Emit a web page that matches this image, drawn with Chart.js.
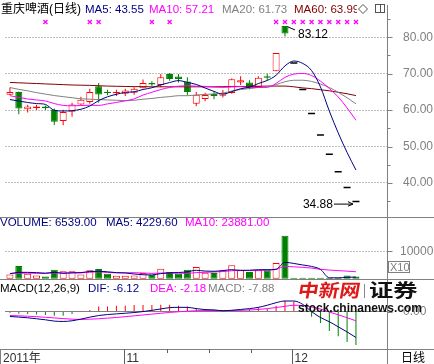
<!DOCTYPE html>
<html lang="zh-CN">
<head>
<meta charset="UTF-8">
<title>重庆啤酒(日线)</title>
<script src="https://cdn.jsdelivr.net/npm/chart.js"></script>
<style>
  html, body { margin: 0; padding: 0; background: #fff; }
  #wrap { width: 434px; height: 364px; }
</style>
</head>
<body>
<div id="wrap"><canvas id="kChart" width="434" height="364"></canvas></div>
<script>
// daily candles, last 40 trading days (3 empty slots on the right)
const opens  = [64.20, 64.95, 60.27, 60.54, 60.97, 60.00, 57.03, 59.54, 61.51, 62.24,
                66.57, 65.03, 64.60, 64.49, 64.76, 66.03, 67.46, 66.92, 69.90, 69.20,
                67.84, 61.78, 63.05, 64.40, 63.95, 64.68, 67.57, 67.57, 66.38, 69.27,
                70.70, 83.12, 72.92, 65.63, 59.07, 53.16, 47.85, 43.06, 38.76, 34.88];
const highs  = [66.20, 65.10, 61.50, 61.50, 61.30, 60.43, 60.08, 62.05, 63.68, 65.84,
                67.46, 65.57, 65.60, 65.90, 66.30, 68.38, 67.90, 69.90, 70.16, 69.90,
                69.00, 64.95, 64.76, 65.10, 65.50, 68.70, 69.27, 68.20, 69.30, 70.00,
                75.66, 83.12, 72.92, 65.63, 59.07, 53.16, 47.85, 43.06, 38.76, 34.88];
const lows   = [64.05, 58.90, 59.35, 60.00, 60.00, 55.90, 55.84, 58.19, 61.30, 61.78,
                62.05, 64.05, 63.90, 63.90, 64.20, 66.00, 66.60, 66.30, 68.10, 67.60,
                64.05, 61.08, 62.43, 63.00, 63.50, 64.50, 66.90, 65.70, 66.20, 68.19,
                70.70, 80.20, 72.92, 65.63, 59.07, 53.16, 47.85, 43.06, 38.76, 34.88];
const closes = [64.95, 60.43, 60.97, 60.97, 60.54, 56.84, 59.46, 61.51, 62.86, 64.95,
                64.32, 64.68, 64.95, 65.40, 65.84, 67.46, 67.03, 69.00, 68.54, 68.54,
                64.95, 64.20, 64.14, 63.86, 64.76, 68.46, 68.19, 66.20, 68.92, 68.92,
                75.66, 81.03, 72.92, 65.63, 59.07, 53.16, 47.85, 43.06, 38.76, 34.88];

const ma5  = [62.90, 62.50, 62.10, 61.80, 61.57, 59.95, 59.76, 59.86, 60.24, 61.12,
              62.62, 63.66, 64.35, 64.86, 65.04, 65.67, 66.14, 66.95, 67.57, 68.11,
              67.61, 67.05, 66.07, 65.14, 64.38, 65.08, 65.88, 66.29, 67.31, 68.14,
              69.58, 72.15, 73.49, 72.83, 70.86, 66.36, 59.73, 53.75, 48.38, 43.55];
const ma10 = [63.95, 63.50, 63.05, 62.80, 62.50, 61.80, 61.30, 61.20, 61.25, 61.35,
              61.29, 61.71, 62.11, 62.55, 63.08, 64.14, 64.90, 65.65, 66.22, 66.58,
              66.64, 66.59, 66.51, 66.36, 66.25, 66.35, 66.46, 66.18, 66.22, 66.26,
              67.33, 69.01, 69.89, 70.07, 69.50, 67.97, 65.94, 63.62, 60.61, 57.21];
const ma20 = [66.20, 65.70, 65.30, 64.80, 64.40, 64.00, 63.70, 63.40, 63.10, 63.00,
              62.90, 62.80, 62.70, 62.60, 62.70, 63.00, 63.20, 63.50, 63.70, 63.96,
              63.96, 64.15, 64.31, 64.45, 64.66, 65.25, 65.68, 65.92, 66.22, 66.42,
              66.99, 67.80, 68.20, 68.21, 67.87, 67.16, 66.20, 64.90, 63.41, 61.73];
const ma60 = [67.60, 67.50, 67.40, 67.30, 67.20, 67.10, 67.00, 66.90, 66.85, 66.80,
              66.70, 66.60, 66.55, 66.50, 66.45, 66.45, 66.40, 66.40, 66.40, 66.40,
              66.40, 66.40, 66.40, 66.40, 66.45, 66.50, 66.50, 66.50, 66.55, 66.60,
              66.60, 66.60, 66.40, 66.10, 65.90, 65.60, 65.30, 64.90, 64.50, 63.99];

const volume = [1550, 4630, 1780, 1190, 810, 3260, 2670, 2670, 1560, 3040,
                3520, 1780, 1040, 1040, 1190, 2040, 1410, 3630, 2410, 1780,
                3260, 4260, 2150, 2040, 3040, 4890, 3040, 2410, 3040, 3040,
                5740, 15740, 300, 300, 300, 300, 300, 300, 1190, 810];
const volMa5  = [1800, 2300, 2300, 2200, 1990, 2330, 1940, 2120, 2190, 2640,
                 2690, 2510, 2190, 2080, 1710, 1420, 1340, 1860, 2140, 2250,
                 2500, 3070, 2770, 2700, 2950, 3280, 3030, 3080, 3280, 3280,
                 3450, 5990, 5570, 5020, 4480, 3390, 300, 300, 480, 580];
const volMa10 = [1900, 2000, 2000, 1950, 1950, 2100, 2100, 2150, 2150, 2320,
                 2510, 2230, 2150, 2140, 2180, 2060, 1930, 2030, 2110, 1980,
                 1960, 2210, 2320, 2420, 2600, 2890, 3050, 2930, 2990, 3120,
                 3370, 4510, 4330, 4150, 3880, 3420, 3150, 2940, 2750, 2530];

const dif  = [-1.16, -1.30, -1.47, -1.70, -1.94, -2.25, -2.33, -2.17, -1.78, -1.32,
              -0.93, -0.70, -0.54, -0.39, -0.23, 0.00, 0.30, 0.62, 0.93, 1.00,
              1.00, 0.70, 0.47, 0.40, 0.20, 0.30, 0.50, 0.70, 1.00, 1.50,
              2.10, 2.50, 2.50, 1.70, 0.00, -1.40, -2.40, -3.60, -4.80, -6.12];
const dea  = [-0.93, -1.00, -1.10, -1.20, -1.35, -1.50, -1.65, -1.80, -1.85, -1.80,
              -1.70, -1.55, -1.40, -1.20, -1.00, -0.80, -0.60, -0.40, -0.20, -0.05,
              0.10, 0.20, 0.25, 0.25, 0.25, 0.27, 0.30, 0.38, 0.50, 0.70,
              0.95, 1.25, 1.50, 1.40, 1.10, 0.60, -0.10, -0.75, -1.45, -2.18];
const macd = [-0.30, -0.50, -0.60, -0.70, -0.80, -1.00, -1.00, -0.60, 0.10, 0.40,
              1.20, 1.20, 1.40, 1.40, 1.55, 1.55, 1.55, 1.60, 1.60, 1.40,
              1.20, 0.85, 0.60, 0.40, 0.10, 0.10, 0.40, 0.60, 1.00, 0.60,
              1.40, 2.56, 2.40, 0.60, -1.20, -2.70, -4.60, -5.80, -7.20, -7.88];

// 信息地雷 markers and axis ticks
const mineIdx = [4, 9, 10, 16, 18, 30, 31, 32, 33, 34, 35, 36, 37, 38, 39];
const priceTicks = [40, 50, 60, 70, 80];
const priceMinor = [35, 45, 55, 65, 75, 85];
const volTicks = [10000];
const macdTicks = [0];
const monthIdx = [13, 32];
const monthText = ['11', '12'];
const yearText = '2011年';
const volTitle = ['VOLUME: 6539.00', 'MA5: 4229.60', 'MA10: 23881.00'];

const SLOTS = 43;
const slots = Array.from({length: SLOTS}, (_, i) => String(i));

const RED = '#ff0000', GREEN = '#008000', NAVY = '#000080', PINK = '#ff00ff', GRAY = '#808080', MAROON = '#800000';
const FONT = '"Liberation Sans", "Noto Sans CJK SC", sans-serif';
const TITLE = '11.5px ' + FONT;

const flat = closes.map((c, i) => opens[i] === c && highs[i] === c && lows[i] === c);
const up = closes.map((c, i) => c > opens[i] || (c === opens[i] && i > 0 && c >= closes[i - 1]));
const bodies = closes.map((c, i) => flat[i] ? null : [opens[i], c]);
const wicks = closes.map((c, i) => flat[i] ? null : [lows[i], highs[i]]);
const dashes = closes.map((c, i) => flat[i] ? c : null);
const lineColor = up.map(u => u ? RED : GREEN);
const fillColor = up.map(u => u ? '#ffffff' : GREEN);

const fitAxis = s => { s.width = 47; s.paddingTop = 0; s.paddingBottom = 0; };
const axisTicks = list => s => { s.ticks = list.map(v => ({value: v})); };

function maLine(label, data, color, axis) {
  return {
    type: 'line', label, data, yAxisID: axis, borderColor: color, borderWidth: 1,
    pointRadius: 0, cubicInterpolationMode: 'monotone', order: 1
  };
}

const deco = {
  id: 'deco',
  afterDraw(chart) {
    const {ctx, chartArea: area} = chart;
    const {x, y, yv, ym} = chart.scales;
    const W = chart.width, H = chart.height, R = Math.round(area.right) + 0.5;
    const hline = (py, x0, x1) => { ctx.beginPath(); ctx.moveTo(x0, py); ctx.lineTo(x1, py); ctx.stroke(); };
    const vline = (px, y0, y1) => { ctx.beginPath(); ctx.moveTo(px, y0); ctx.lineTo(px, y1); ctx.stroke(); };
    const text = (s, px, py, color, font = TITLE, align = 'left') => {
      ctx.font = font; ctx.fillStyle = color; ctx.textAlign = align; ctx.textBaseline = 'alphabetic';
      ctx.fillText(s, px, py);
    };
    ctx.save();

    // panel frames
    ctx.strokeStyle = GRAY; ctx.lineWidth = 1;
    hline(Math.round(yv.top) + 0.5, 0, W);
    hline(Math.round(ym.top) + 0.5, 0, W);
    hline(Math.round(area.bottom) + 0.5, 0, W);
    vline(R, area.bottom, H);
    vline(0.5, area.bottom, H);

    // right axis tick marks
    const tick = (scale, v, len) => hline(Math.round(scale.getPixelForValue(v)) + 0.5, R, R + len);
    priceTicks.forEach(v => tick(y, v, 5));
    priceMinor.forEach(v => tick(y, v, 3));
    volTicks.forEach(v => tick(yv, v, 5));
    macdTicks.forEach(v => tick(ym, v, 5));

    // x10 box of the volume axis
    ctx.strokeRect(388.5, 261.5, 21, 11);
    text('X10', 390, 271, GRAY, '11px ' + FONT);

    // bottom date row
    ctx.strokeStyle = '#606060';
    const mx = monthIdx.map(i => Math.round(x.getPixelForValue(i) - 1.5) + 0.5);
    mx.forEach(px => vline(px, area.bottom, H));
    for (let k = 1; k < 4; k++) {
      const px = Math.round(mx[0] + (mx[1] - mx[0]) * k / 4) + 0.5;
      vline(px, area.bottom, area.bottom + 4);
    }
    text(yearText, 3, 362, '#303030', '12px ' + FONT);
    monthText.forEach((s, k) => text(s, mx[k] + 2, 362, '#303030', '12px ' + FONT));
    text('日线', 401, 362, '#000', '12px ' + FONT);

    // titles
    const last = a => a[a.length - 1].toFixed(2);
    text('重庆啤酒(日线)', 1, 13, '#000', '12px ' + FONT);
    text('MA5: ' + last(ma5), 85, 13, NAVY);
    text('MA10: ' + last(ma10), 149, 13, PINK);
    text('MA20: ' + last(ma20), 222, 13, GRAY);
    text('MA60: ' + last(ma60), 294, 13, MAROON);
    ctx.fillStyle = '#fff'; ctx.fillRect(357, 0, 30, 16);
    ctx.strokeStyle = '#555';
    ctx.beginPath(); ctx.moveTo(363, 4.5); ctx.lineTo(367.5, 9); ctx.lineTo(363, 13.5); ctx.lineTo(358.5, 9); ctx.closePath(); ctx.stroke();
    ctx.strokeRect(375.5, 4.5, 9, 8); vline(380.5, 4.5, 12.5);

    text(volTitle[0], 0, 226, NAVY);
    text(volTitle[1], 106, 226, NAVY);
    text(volTitle[2], 185, 226, PINK);

    text('MACD(12,26,9)', 0, 292, '#000');
    text('DIF: ' + last(dif), 88, 292, NAVY);
    text('DEA: ' + last(dea), 150, 292, PINK);
    text('MACD: ' + last(macd), 208, 292, GRAY);

    // info-mine crosses
    ctx.strokeStyle = PINK; ctx.lineWidth = 1.3;
    mineIdx.forEach(i => {
      const px = x.getPixelForValue(i), py = 22;
      ctx.beginPath(); ctx.moveTo(px - 2, py - 2); ctx.lineTo(px + 2, py + 2);
      ctx.moveTo(px + 2, py - 2); ctx.lineTo(px - 2, py + 2); ctx.stroke();
    });

    // highest / lowest price notes
    ctx.strokeStyle = '#000'; ctx.lineWidth = 1;
    const hi = highs.indexOf(Math.max(...highs));
    const hx = x.getPixelForValue(hi), hy = y.getPixelForValue(highs[hi]);
    ctx.beginPath(); ctx.moveTo(hx + 3, hy + 1); ctx.lineTo(hx + 10, hy + 4); ctx.stroke();
    text(highs[hi].toFixed(2), hx + 13, hy + 12, '#000', '12px ' + FONT);
    const lo = lows.indexOf(Math.min(...lows));
    const lx = x.getPixelForValue(lo), ly = y.getPixelForValue(lows[lo]);
    text(lows[lo].toFixed(2), lx - 23, ly + 6.5, '#000', '12px ' + FONT, 'right');
    ctx.beginPath(); ctx.moveTo(lx - 22, ly + 2.5); ctx.lineTo(lx - 3, ly + 2.5);
    ctx.moveTo(lx - 8, ly); ctx.lineTo(lx - 3, ly + 2.5); ctx.lineTo(lx - 8, ly + 4.5); ctx.stroke();

    // watermark
    ctx.save();
    ctx.translate(297, 297); ctx.scale(1.15, 1); ctx.transform(1, 0, -0.15, 1, 0, 0);
    text('中新网', 0, 0, '#e01818', 'bold 18px "Noto Sans CJK SC"');
    ctx.restore();
    ctx.strokeStyle = '#888'; vline(364.5, 284, 298);
    ctx.save();
    ctx.translate(369, 297); ctx.scale(1.35, 1);
    text('证券', 0, 0, '#111', 'bold 18px "Noto Sans CJK SC"');
    ctx.restore();
    text('stock.chinanews.com', 298, 312, '#111', 'bold 12px ' + FONT);

    ctx.restore();
  }
};

new Chart(document.getElementById('kChart'), {
  type: 'bar',
  data: {
    labels: slots,
    datasets: [
      maLine('MA5', ma5, NAVY, 'y'),
      maLine('MA10', ma10, PINK, 'y'),
      maLine('MA20', ma20, GRAY, 'y'),
      maLine('MA60', ma60, MAROON, 'y'),
      {
        type: 'line', label: 'flat', data: dashes, yAxisID: 'y', showLine: false,
        pointStyle: 'line', pointRadius: 3.5, pointBorderWidth: 1.5,
        pointBorderColor: '#000', pointBackgroundColor: '#000', order: 3
      },
      {
        label: 'body', data: bodies, yAxisID: 'y', barThickness: 7, grouped: false,
        backgroundColor: fillColor, borderColor: lineColor, borderWidth: 1,
        borderSkipped: false, inflateAmount: 0, order: 4
      },
      {
        label: 'wick', data: wicks, yAxisID: 'y', barThickness: 1, grouped: false,
        backgroundColor: lineColor, inflateAmount: 0, order: 5
      },
      maLine('VMA5', volMa5, NAVY, 'yv'),
      maLine('VMA10', volMa10, PINK, 'yv'),
      {
        label: 'volume', data: volume, yAxisID: 'yv', barThickness: 7, grouped: false,
        backgroundColor: fillColor, borderColor: lineColor, borderWidth: 1,
        borderSkipped: false, inflateAmount: 0, order: 4
      },
      maLine('DIF', dif, NAVY, 'ym'),
      maLine('DEA', dea, PINK, 'ym'),
      {
        label: 'MACD', data: macd, yAxisID: 'ym', barThickness: 1, grouped: false,
        backgroundColor: macd.map(v => v >= 0 ? RED : GREEN), inflateAmount: 0, order: 4
      }
    ]
  },
  options: {
    responsive: false,
    animation: false,
    layout: { padding: { left: 0, right: 0, top: 0, bottom: 15 } },
    plugins: { legend: { display: false }, tooltip: { enabled: false } },
    scales: {
      x: { type: 'category', display: false, offset: true, grid: { display: false } },
      y: {
        position: 'right', stack: 'panes', stackWeight: 215, min: 30.62, max: 88.73,
        afterFit: fitAxis, afterBuildTicks: axisTicks(priceTicks),
        ticks: { padding: 16, color: GRAY, font: { family: FONT, size: 12 }, callback: v => v.toFixed(2) },
        grid: { color: GRAY, drawTicks: false },
        border: { display: true, color: GRAY, dash: [1, 2] }
      },
      yv: {
        position: 'right', stack: 'panes', stackWeight: 63, min: -180, max: 22600,
        afterFit: fitAxis, afterBuildTicks: axisTicks(volTicks),
        ticks: { padding: 13, color: GRAY, font: { family: FONT, size: 12 }, callback: v => String(v) },
        grid: { color: GRAY, drawTicks: false },
        border: { display: true, color: GRAY, dash: [1, 2] }
      },
      ym: {
        position: 'right', stack: 'panes', stackWeight: 71, min: -8.84, max: 7.67,
        afterFit: fitAxis, afterBuildTicks: axisTicks(macdTicks),
        ticks: { padding: 16, color: GRAY, font: { family: FONT, size: 12 }, callback: v => v.toFixed(2) },
        grid: { color: '#000', drawTicks: false },
        border: { display: true, color: GRAY, dash: [1, 1] }
      }
    }
  },
  plugins: [deco]
});
</script>
</body>
</html>
